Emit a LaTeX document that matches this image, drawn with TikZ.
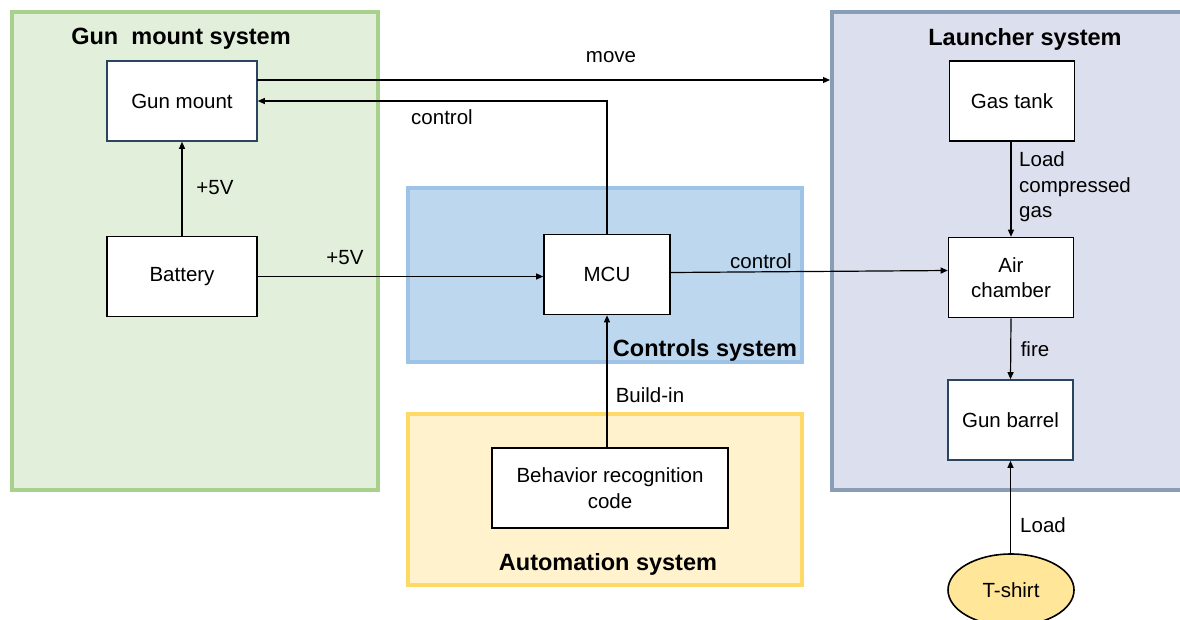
\documentclass[tikz,border=0pt]{standalone}
\usepackage{fontspec}
\setmainfont{Liberation Sans}
\usetikzlibrary{arrows.meta,shapes.geometric}
\definecolor{gfill}{HTML}{E2EFDA}
\definecolor{gline}{HTML}{A9D18E}
\definecolor{bfill}{HTML}{BDD7EE}
\definecolor{bline}{HTML}{9DC3E6}
\definecolor{yfill}{HTML}{FFF2CC}
\definecolor{yline}{HTML}{FFD966}
\definecolor{lfill}{HTML}{DCE0EE}
\definecolor{lline}{HTML}{8A9DB7}
\definecolor{navy}{HTML}{2B4560}
\definecolor{tfill}{HTML}{FFE699}
\begin{document}
\begin{tikzpicture}[x=1pt,y=-1pt,
  every node/.style={font=\fontsize{20.5}{25.5}\selectfont},
  group/.style={line width=4pt},
  box/.style={draw=black,fill=white,line width=1.6pt,minimum width=#1,minimum height=80pt,inner sep=0pt,align=center},
  box/.default=150pt,
  nbox/.style={box=#1,draw=navy},
  title/.style={font=\fontsize{23.5}{28}\selectfont\bfseries},
  arr/.style={line width=1.2pt,-{Triangle[length=7pt,width=6pt]}},
  lbl/.style={inner sep=0pt}
]
\useasboundingbox (0,0) rectangle (1180,619);
% group boxes
\draw[group,draw=gline,fill=gfill] (12,12) rectangle (378,490);
\draw[group,draw=bline,fill=bfill] (408,188) rectangle (802,362);
\draw[group,draw=yline,fill=yfill] (408,414) rectangle (802,585);
\draw[group,draw=lline,fill=lfill] (832,12) rectangle (1200,490);
\coordinate (lwest) at (830,80);
% titles
\node[title] (tgm) at (181,39) {Gun~ mount system};
\node[title] (tls) at (1025,39) {Launcher system};
\node[title] (tcs) at (705,350) {Controls system};
\node[title] (tas) at (608,564) {Automation system};
% nodes
\node[nbox=150pt] (gm) at (182,101) {Gun mount};
\node[box=150pt] (bat) at (182,276.5) {Battery};
\node[box=126pt] (mcu) at (607,274.5) {MCU};
\node[box=236pt] (brc) at (610,488) {Behavior recognition\\code};
\node[box=125pt] (gas) at (1012,101) {Gas tank};
\node[box=125pt] (air) at (1011,277.5) {Air\\chamber};
\node[nbox=125pt] (gb) at (1010.5,420) {Gun barrel};
\node[ellipse,draw=black,fill=tfill,line width=1.6pt,minimum width=126pt,minimum height=72pt,inner sep=0pt] (ts) at (1011,590) {T-shirt};
% connectors
\draw[arr] (bat.north) -- (gm.south);
\draw[arr] (bat.east) -- (bat.east -| mcu.west);
\draw[arr] ([yshift=20pt]gm.east) -- (gm.east |- lwest) -- (lwest);
\draw[arr] (mcu.north) |- (gm.east);
\draw[arr] (brc.north -| mcu.south) -- (mcu.south);
\draw[arr] ([yshift=2pt]mcu.east) -- ([yshift=7pt]air.west);
\draw[arr] (gas.south -| air.north) -- (air.north);
\draw[arr] (air.south) -- (gb.north);
\draw[arr] (ts.north -| gb.south) -- (gb.south);
% labels
\node[lbl] (l5a) at (215,188) {+5V};
\node[lbl] (l5b) at (345,258) {+5V};
\node[lbl] (lc1) at (442,117) {control};
\node[lbl] (lmv) at (611,57) {move};
\node[lbl] (lc2) at (761,261) {control};
\node[lbl] (lbi) at (650,395) {Build-in};
\node[lbl,anchor=west,align=left] (llg) at (1019,187) {Load\\compressed\\gas};
\node[lbl] (lfi) at (1035,349) {fire};
\node[lbl] (lld) at (1043,525) {Load};
\end{tikzpicture}
\end{document}
